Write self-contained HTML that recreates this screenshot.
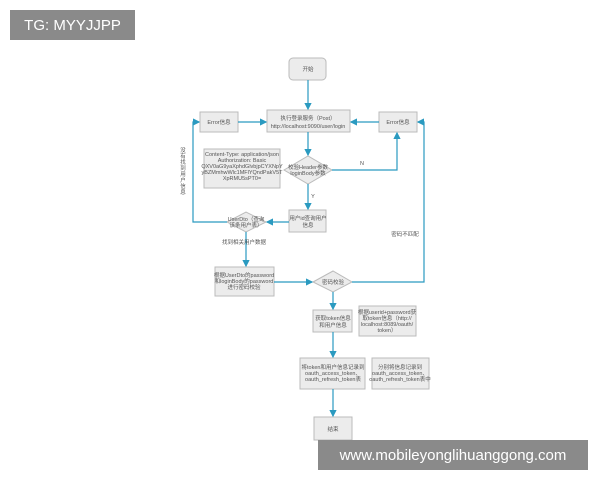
<!DOCTYPE html>
<html><head><meta charset="utf-8"><style>
body{margin:0;background:#fff;width:600px;height:480px;overflow:hidden;position:relative;font-family:"Liberation Sans","Noto Sans CJK SC",sans-serif}
.wm{position:absolute;background:#8a8a8a;color:#fff;font-size:15px;display:flex;align-items:center;justify-content:center}
</style></head><body>
<svg width="600" height="480" style="position:absolute;left:0;top:0" font-family="Liberation Sans, Noto Sans CJK SC, sans-serif" font-size="5.5" fill="#555">
<defs><marker id="a" markerWidth="6" markerHeight="6" refX="5" refY="3" orient="auto"><path d="M0,0 L6,3 L0,6z" fill="#2a9ac0"/></marker></defs>
<g fill="#ececec" stroke="#bbb" stroke-width="1">
<rect x="289" y="58" width="37" height="22" rx="4"/>
<rect x="267" y="110" width="83" height="22"/>
<rect x="200" y="112" width="38" height="20"/>
<rect x="379" y="112" width="38" height="20"/>
<rect x="204" y="149" width="76" height="39"/>
<polygon points="284,170 308,156 332,170 308,184"/>
<rect x="289" y="210" width="37" height="22"/>
<polygon points="227,222 246,212 266,222 246,232"/>
<rect x="215" y="267" width="59" height="29"/>
<polygon points="313,282 333,271 352,282 333,292"/>
<rect x="313" y="310" width="39" height="22"/>
<rect x="359" y="306" width="57" height="30"/>
<rect x="300" y="358" width="65" height="31"/>
<rect x="372" y="358" width="57" height="31"/>
<rect x="314" y="417" width="38" height="23"/>
</g>
<g stroke="#2a9ac0" stroke-width="1.2" fill="none" marker-end="url(#a)">
<path d="M308,80 V109"/>
<path d="M238,122 H266"/>
<path d="M379,122 H351"/>
<path d="M308,132 V155"/>
<path d="M332,170 H397 V133"/>
<path d="M308,184 V209"/>
<path d="M289,222 H267"/>
<path d="M227,222 H193 V122 H199"/>
<path d="M246,232 V266"/>
<path d="M274,282 H312"/>
<path d="M352,282 H424 V122 H418"/>
<path d="M333,292 V309"/>
<path d="M333,332 V357"/>
<path d="M333,389 V416"/>
</g>
<g text-anchor="middle">
<text x="308" y="71">开始</text>
<text x="308" y="120">执行登录服务（Post）</text>
<text x="308" y="128">http://localhost:9090/user/login</text>
<text x="219" y="124">Error信息</text>
<text x="398" y="124">Error信息</text>
<text x="242" y="156">Content-Type: application/json</text>
<text x="242" y="162">Authorization: Basic</text>
<text x="242" y="168">QXV0aG9yaXphdGlvbjpCYXNpY</text>
<text x="242" y="174">yBZMmhwWlc1MFlYQndPakV5T</text>
<text x="242" y="180">XpRMU5sPT0=</text>
<text x="308" y="169">校验Header参数</text>
<text x="308" y="175">loginBody参数</text>
<text x="362" y="165">N</text>
<text x="313" y="198">Y</text>
<text x="308" y="220">用户id查询用户</text>
<text x="308" y="227">信息</text>
<text x="246" y="221">UserDto（查询</text>
<text x="246" y="227">该条用户表）</text>
<text x="244" y="244">找到相关用户数据</text>
<text x="405" y="236">密码不匹配</text>
<text x="244" y="277">根据UserDto的password</text>
<text x="244" y="283">和loginBody的password</text>
<text x="244" y="289">进行密码校验</text>
<text x="333" y="284">密码校验</text>
<text x="333" y="320">获取token信息</text>
<text x="333" y="327">和用户信息</text>
<text x="387" y="314">根据userid+password获</text>
<text x="387" y="320">取token信息（http://</text>
<text x="387" y="326">localhost:8089/oauth/</text>
<text x="387" y="332">token）</text>
<text x="333" y="369">将token和用户信息记录到</text>
<text x="333" y="375">oauth_access_token、</text>
<text x="333" y="381">oauth_refresh_token表</text>
<text x="400" y="369">分别将信息记录到</text>
<text x="400" y="375">oauth_access_token、</text>
<text x="400" y="381">oauth_refresh_token表中</text>
<text x="333" y="431">结束</text>
</g>
<g text-anchor="middle"><text x="183" y="152">没</text><text x="183" y="158">有</text><text x="183" y="164">找</text><text x="183" y="170">到</text><text x="183" y="176">用</text><text x="183" y="182">户</text><text x="183" y="188">信</text><text x="183" y="194">息</text></g>
</svg>
<div class="wm" style="left:10px;top:10px;width:125px;height:30px">TG: MYYJJPP</div>
<div class="wm" style="left:318px;top:440px;width:270px;height:30px">www.mobileyonglihuanggong.com</div>
</body></html>
